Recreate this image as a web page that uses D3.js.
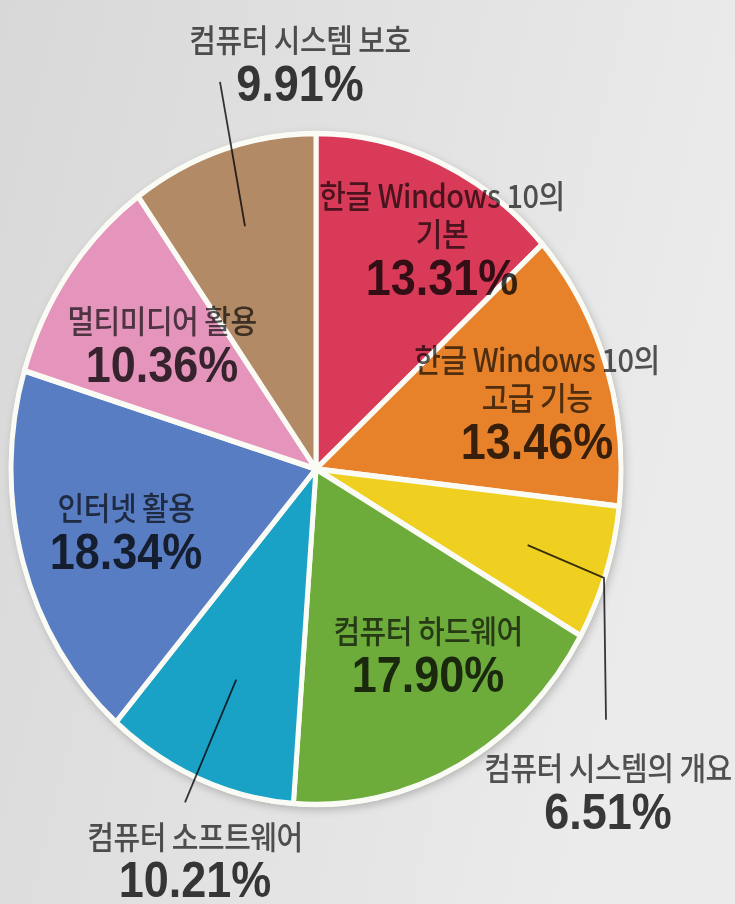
<!DOCTYPE html>
<html><head><meta charset="utf-8">
<script src="https://cdn.jsdelivr.net/npm/d3@7"></script>
<style>
html,body{margin:0;padding:0;background:#e2e2e2;}
svg{display:block;}
.lbl{mix-blend-mode:multiply;}
</style></head>
<body>
<script>
// ---- data ----
const categories = [
  ["한글 Windows 10의", "기본"],
  ["한글 Windows 10의", "고급 기능"],
  ["컴퓨터 시스템의 개요"],
  ["컴퓨터 하드웨어"],
  ["컴퓨터 소프트웨어"],
  ["인터넷 활용"],
  ["멀티미디어 활용"],
  ["컴퓨터 시스템 보호"]
];
const values = [13.31, 13.46, 6.51, 17.90, 10.21, 18.34, 10.36, 9.91];
const colors = ["#d93a58", "#e7822b", "#efcf1f", "#6dab3b", "#1aa2c6", "#587dc2", "#e594bc", "#b28a66"];

// ---- layout (local coords, relative to pie centre before vertical stretch) ----
const W = 735, H = 904, cx = 316, cy = 469, R = 305, stretchY = 1.1;
const labelLayout = [
  {x: 126, y: -237},
  {x: 221, y: -88},
  {x: 292, y: 283},
  {x: 112, y: 158},
  {x: -121, y: 345},
  {x: -190, y: 46},
  {x: -154, y: -124},
  {x: -16, y: -379}
];
// leader lines: inner point on slice mid-angle at factor k, then outer points
const leaders = [
  {i: 2, k: 0.73, pts: [[288, 99], [290, 228]]},
  {i: 4, k: 0.68, pts: [[-131, 303]]},
  {i: 7, k: 0.76, pts: [[-96, -352]]}
];

const svg = d3.select("body").append("svg").attr("width", W).attr("height", H);
const defs = svg.append("defs");
const bg = defs.append("linearGradient").attr("id", "bg").attr("x1", 0).attr("x2", 1).attr("y1", 0).attr("y2", 0.3);
bg.append("stop").attr("offset", 0).attr("stop-color", "#d8d8d8");
bg.append("stop").attr("offset", 1).attr("stop-color", "#ebebeb");
const sh = defs.append("filter").attr("id", "sh").attr("x", "-10%").attr("y", "-10%").attr("width", "120%").attr("height", "120%");
sh.append("feDropShadow").attr("dx", 2).attr("dy", 3).attr("stdDeviation", 4).attr("flood-color", "#000").attr("flood-opacity", 0.22);

svg.append("rect").attr("width", W).attr("height", H).attr("fill", "url(#bg)");

const g = svg.append("g").attr("transform", `translate(${cx},${cy}) scale(1,${stretchY})`);

const pie = d3.pie().sort(null).value(d => d)(values);
const arc = d3.arc().innerRadius(0).outerRadius(R);

g.append("circle").attr("r", R + 2).attr("fill", "#fff").attr("filter", "url(#sh)");
g.selectAll("path.slice").data(pie).join("path")
  .attr("class", "slice")
  .attr("d", arc)
  .attr("fill", (d, i) => colors[i])
  .attr("stroke", "#fbfbf6")
  .attr("stroke-width", 5)
  .attr("stroke-linejoin", "round");

// leader lines
const pt = (a, r) => [r * Math.sin(a), -r * Math.cos(a)];
leaders.forEach(l => {
  const d = pie[l.i];
  const mid = (d.startAngle + d.endAngle) / 2;
  const p0 = pt(mid, R * l.k);
  g.append("path")
    .attr("d", d3.line()([p0, ...l.pts]))
    .attr("fill", "none")
    .attr("stroke", "#3a3a3a")
    .attr("stroke-width", 1.8)
    .attr("vector-effect", "non-scaling-stroke")
    .attr("class", "lbl");
});

// labels
const lineStep = 34.5, pctStep = 44.5;
pie.forEach((d, i) => {
  const L = labelLayout[i];
  const t = g.append("g").attr("transform", `translate(${L.x},${L.y})`);
  categories[i].forEach((s, j) => {
    t.append("text").attr("class", "lbl")
      .attr("x", 0).attr("y", j * lineStep)
      .attr("text-anchor", "middle")
      .attr("font-family", "'Noto Sans CJK KR', sans-serif")
      .attr("font-weight", 500)
      .attr("font-size", 29)
      .attr("letter-spacing", -0.5)
      .attr("fill", "#575757")
      .text(s);
  });
  t.append("text").attr("class", "lbl")
    .attr("x", 0).attr("y", (categories[i].length - 1) * lineStep + pctStep)
    .attr("text-anchor", "middle")
    .attr("font-family", "'Liberation Sans', Arial, sans-serif")
    .attr("font-weight", 700)
    .attr("font-size", 45)
    .attr("fill", "#3c3c3c")
    .text(values[i].toFixed(2) + "%");
});
</script>
</body></html>
